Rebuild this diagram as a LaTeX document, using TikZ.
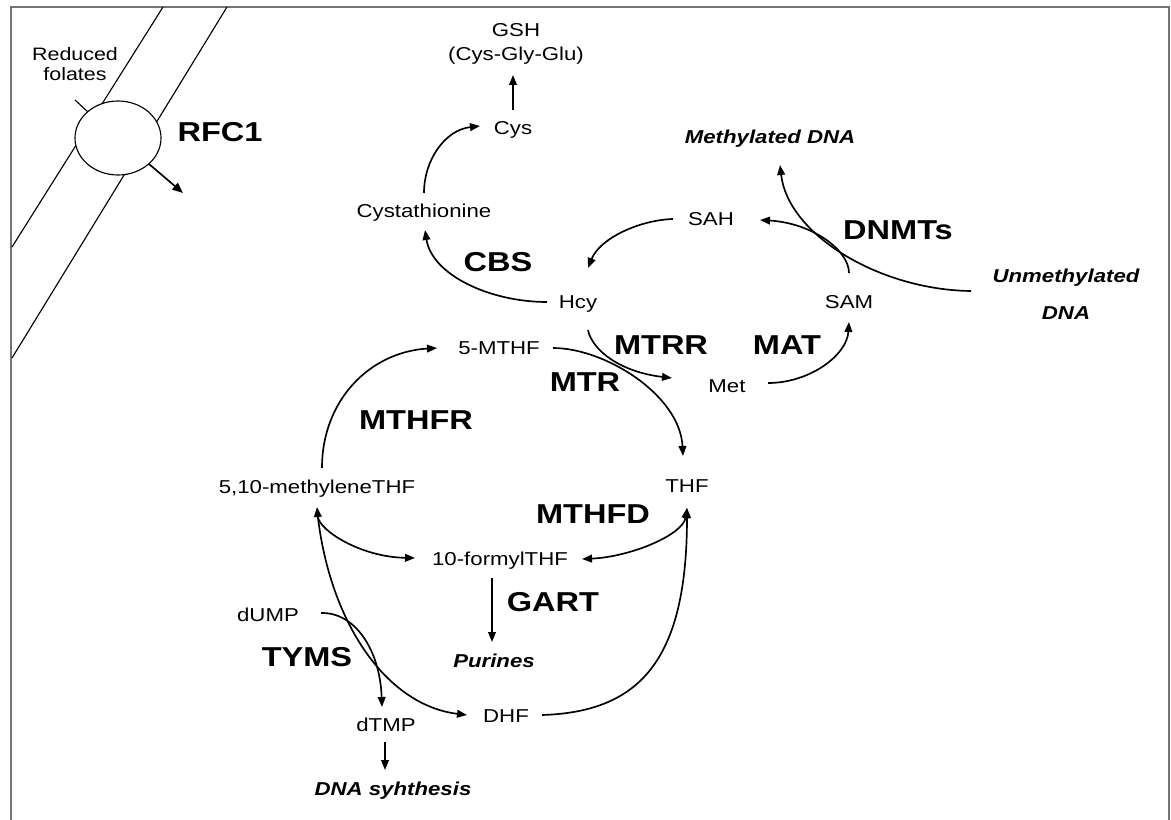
\documentclass[tikz,border=0pt]{standalone}
\usepackage{fontspec}
\setmainfont{Liberation Sans}[FakeStretch=1.19]
\usetikzlibrary{arrows.meta,calc,shapes.geometric}
\begin{document}
\begin{tikzpicture}[x=0.75pt,y=-0.75pt,
  sm/.style={font=\fontsize{14}{15}\selectfont, inner sep=0pt, text height=10pt, text depth=0pt},
  big/.style={font=\fontsize{20.5}{22}\selectfont\bfseries, inner sep=0pt, text height=14.7pt, text depth=0pt},
  bi/.style={font=\fontsize{14}{15}\selectfont\bfseries\itshape, inner sep=0pt, text height=10pt, text depth=0pt},
  conn/.style={line width=1.25pt, -{Triangle[length=7.5pt,width=5.8pt]}},
  conn2/.style={line width=1.25pt, {Triangle[length=7.5pt,width=5.8pt]}-{Triangle[length=7.5pt,width=5.8pt]}},
  mem/.style={line width=0.85pt},
  framecol/.style={draw=black!55, line width=1.5pt}]
\useasboundingbox (0,0) rectangle (1171,820);
% frame
\draw[framecol] (11,820) -- (11,7) -- (1169,7) -- (1169,820);
% membrane
\draw[mem] (163,7) -- (12,247);
\draw[mem] (227,7) -- (12,358);
\node[draw, ellipse, fill=white, line width=0.85pt, minimum width=64.5pt, minimum height=55.5pt, inner sep=0pt] (port) at (118,138) {};
\draw[mem] ($(port)+(-30,-26)$) -- ($(port)+(-43,-38)$);
\draw[line width=1.25pt, -{Triangle[length=8pt,width=6.5pt]}] ($(port)+(31,26)$) -- ($(port)+(65,55)$);
\node[font=\fontsize{13.5}{15}\selectfont, align=center, inner sep=0pt] (fol) at (75,64) {Reduced\\folates};
\node[big] (rfc) at (220,132) {RFC1};

% nodes
\node[font=\fontsize{14}{18}\selectfont, align=center, inner sep=0pt] (gsh) at (516,44) {GSH\\(Cys-Gly-Glu)};
\node[sm] (cys) at (513,128) {Cys};
\node[sm] (cysta) at (424,211) {Cystathionine};
\node[big] (cbs) at (498,262) {CBS};
\node[sm] (hcy) at (578,302) {Hcy};
\node[sm] (sah) at (711,219) {SAH};
\node[bi] (meth) at (770,137) {Methylated DNA};
\node[big] (dnmt) at (898,230) {DNMTs};
\node[font=\fontsize{14}{28}\selectfont\bfseries\itshape, align=center, inner sep=0pt] (unm) at (1066,294) {Unmethylated\\DNA};
\node[sm] (sam) at (849,302) {SAM};
\node[big] (mat) at (787,345) {MAT};
\node[sm] (met) at (727,386) {Met};
\node[big] (mtrr) at (661,345) {MTRR};
\node[big] (mtr) at (585,382) {MTR};
\node[sm] (mthf) at (499,348) {5-MTHF};
\node[big] (mthfr) at (416,420) {MTHFR};
\node[sm] (mthylene) at (317,487) {5,10-methyleneTHF};
\node[sm] (thf) at (687,486) {THF};
\node[big] (mthfd) at (593,514) {MTHFD};
\node[sm] (formyl) at (500,559) {10-formylTHF};
\node[big] (gart) at (553,602) {GART};
\node[bi] (pur) at (494,661) {Purines};
\node[sm] (dump) at (268,615) {dUMP};
\node[big] (tyms) at (307,657) {TYMS};
\node[sm] (dtmp) at (386,725) {dTMP};
\node[sm] (dhf) at (506,716) {DHF};
\node[bi] (dna) at (393,789) {DNA syhthesis};

% connectors
\draw[conn] ($(cys)+(0,-18)$) -- ($(gsh)+(-3,31)$);
\draw[conn] ($(cysta)+(0,-18)$) .. controls (424,160) and (445,130) .. ($(cys)+(-33,-2)$);
\draw[conn] ($(hcy)+(-31,0)$) .. controls (490,302) and (432,275) .. ($(cysta)+(1,19)$);
\draw[conn] ($(sah)+(-38,0)$) .. controls (640,220) and (600,238) .. ($(hcy)+(10,-34)$);
\draw[conn] ($(sam)+(0,-29)$) .. controls (849,250) and (812,223) .. ($(sah)+(49,1)$);
\draw[conn] ($(unm)+(-95,-3)$) .. controls (880,290) and (788,235) .. ($(meth)+(10,28)$);
\draw[conn] ($(met)+(41,-3)$) .. controls (810,383) and (847,355) .. ($(sam)+(0,20)$);
\draw[conn] ($(hcy)+(10,28)$) .. controls (592,350) and (620,372) .. ($(met)+(-55,-8)$);
\draw[conn] ($(mthf)+(54,0)$) .. controls (605,348) and (680,395) .. ($(thf)+(-4,-30)$);
\draw[conn] ($(mthylene)+(5,-19)$) .. controls (322,400) and (370,352) .. ($(mthf)+(-62,0)$);
\draw[conn2] ($(mthylene)+(0,20)$) .. controls (319,530) and (360,557) .. ($(formyl)+(-85,-1)$);
\draw[conn2] ($(thf)+(0,22)$) .. controls (683,535) and (630,557) .. ($(formyl)+(82,0)$);
\draw[conn] ($(mthylene)+(0,22)$) .. controls (328,620) and (385,705) .. ($(dhf)+(-39,-1)$);
\draw[conn] ($(dhf)+(36,-1)$) .. controls (640,712) and (687,660) .. ($(thf)+(0,22)$);
\draw[conn] ($(dump)+(53,-2)$) .. controls (355,612) and (380,650) .. ($(dtmp)+(-4,-18)$);
\draw[conn] ($(dtmp)+(-1,17)$) -- ($(dna)+(-8,-19)$);
\draw[conn] ($(formyl)+(-8,19)$) -- ($(pur)+(-2,-19)$);
\end{tikzpicture}
\end{document}
